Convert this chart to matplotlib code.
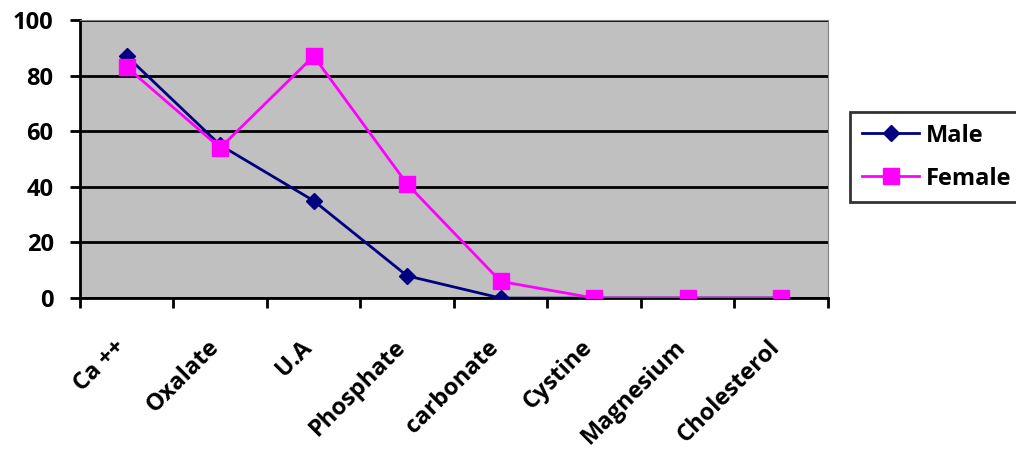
import matplotlib.pyplot as plt
import matplotlib.transforms as mtransforms
import numpy as np

# stone composition by sex
categories = ["Ca ++", "Oxalate", "U.A", "Phosphate", "carbonate", "Cystine", "Magnesium", "Cholesterol"]
male = [87, 55, 35, 8, 0, 0, 0, 0]
female = [83, 54, 87, 41, 6, 0, 0, 0]

plt.rcParams['font.family'] = ['Open Sans', 'DejaVu Sans']

fig = plt.figure(figsize=(10.16, 4.53), dpi=100)
ax = fig.add_axes([0.0787, 0.342, 0.736, 0.614])
ax.set_facecolor("#c0c0c0")

x = np.arange(len(categories))
ax.plot(x, male, color="#000080", lw=2, marker="D", ms=8, label="Male", zorder=3)
ax.plot(x, female, color="#ff00ff", lw=2, marker="s", ms=11, label="Female", zorder=3)

ax.set_xlim(-0.5, len(categories) - 0.5)
ax.set_ylim(0, 100)
ax.set_yticks(range(0, 101, 20))
ax.yaxis.grid(True, color="black", lw=2)
ax.set_axisbelow(True)

ax.set_xticks(x)
ax.set_xticklabels(categories, rotation=45, ha="right", va="center", rotation_mode="anchor",
                   fontsize=17, fontweight="bold")
ax.set_xticks(np.arange(-0.5, len(categories), 1), minor=True)
ax.tick_params(axis="x", which="major", length=0, pad=33)
ax.tick_params(axis="x", which="minor", length=7, width=2)
ax.tick_params(axis="y", length=7, width=2, labelsize=17, pad=12)
for lab in ax.get_yticklabels():
    lab.set_fontweight("bold")
# nudge the slanted labels a little left
shift = mtransforms.ScaledTranslation(-5 / 100, 0, fig.dpi_scale_trans)
for lab in ax.get_xticklabels():
    lab.set_transform(lab.get_transform() + shift)

ax.spines["left"].set_linewidth(2)
ax.spines["bottom"].set_linewidth(2)
ax.spines["top"].set_color("#808080")
ax.spines["right"].set_color("#808080")

leg = fig.legend(loc="upper left", bbox_to_anchor=(0.837, 0.753), frameon=True,
                 fancybox=False, edgecolor="black", prop={"size": 17, "weight": "bold"},
                 handlelength=2.4, borderpad=0.5, labelspacing=0.8, handletextpad=0.3,
                 borderaxespad=0)
leg.get_frame().set_linewidth(2)

plt.savefig("out.png")
